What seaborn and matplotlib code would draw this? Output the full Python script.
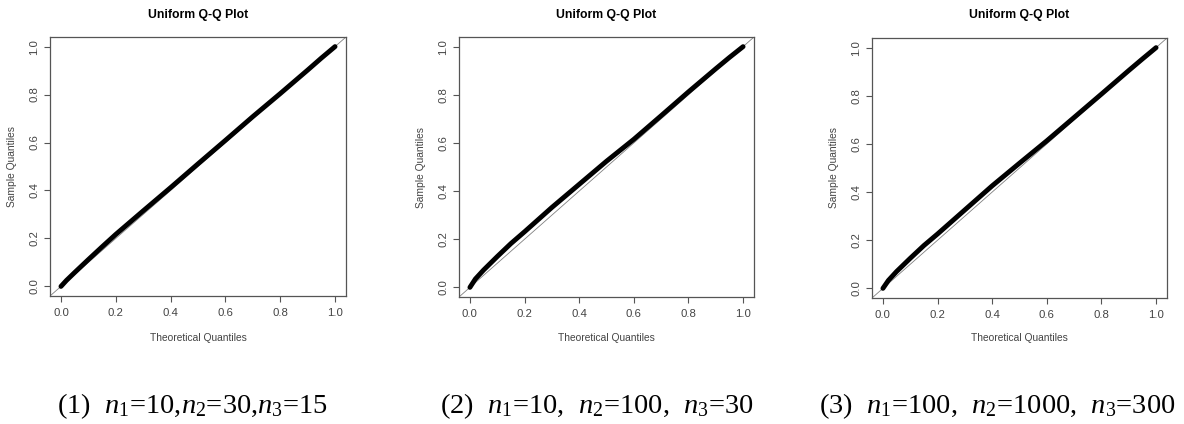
import numpy as np
import pandas as pd
import matplotlib
matplotlib.use("Agg")
import matplotlib.pyplot as plt
import seaborn as sns

# ---- data ----
theoretical = [0.0, 0.02, 0.05, 0.10, 0.15, 0.20, 0.30, 0.40, 0.50, 0.60, 0.70, 0.80, 0.90, 0.95, 1.0]
sample_1 = [0.0, 0.025, 0.058, 0.112, 0.165, 0.217, 0.315, 0.412, 0.511, 0.609, 0.708, 0.804, 0.902, 0.952, 1.0]
sample_2 = [0.0, 0.035, 0.072, 0.128, 0.182, 0.231, 0.332, 0.428, 0.524, 0.615, 0.713, 0.812, 0.908, 0.955, 1.0]
sample_3 = [0.0, 0.033, 0.070, 0.125, 0.178, 0.226, 0.326, 0.426, 0.520, 0.613, 0.710, 0.807, 0.905, 0.953, 1.0]
tick_values = [0.0, 0.2, 0.4, 0.6, 0.8, 1.0]
tick_labels = ["0.0", "0.2", "0.4", "0.6", "0.8", "1.0"]
panel_title = "Uniform Q-Q Plot"
x_label = "Theoretical Quantiles"
y_label = "Sample Quantiles"
captions = [
    r"(1)  $n_1$=10,$n_2$=30,$n_3$=15",
    r"(2)  $n_1$=10,  $n_2$=100,  $n_3$=30",
    r"(3)  $n_1$=100,  $n_2$=1000,  $n_3$=300",
]

sns.set_style("white")
plt.rcParams["font.family"] = ["Liberation Sans", "DejaVu Sans"]
plt.rcParams["mathtext.fontset"] = "custom"
plt.rcParams["mathtext.rm"] = "Liberation Serif"
plt.rcParams["mathtext.it"] = "Liberation Serif:italic"

W, H = 1184, 424
fig = plt.figure(figsize=(W / 100, H / 100), dpi=100)
fig.patch.set_facecolor("white")

boxes = [(50, 346, 37, 296), (459, 754, 37, 297), (872, 1167, 38, 298)]
caption_x = [192.5, 596.5, 997.5]
samples = [sample_1, sample_2, sample_3]

for (l, r, t, b), ys, cap, cx in zip(boxes, samples, captions, caption_x):
    ax = fig.add_axes([l / W, (H - b) / H, (r - l) / W, (b - t) / H])
    df = pd.DataFrame({"Theoretical": theoretical, "Sample": ys})
    ax.axline((0, 0), slope=1, color="#808080", lw=0.6, zorder=1)
    sns.lineplot(data=df, x="Theoretical", y="Sample", ax=ax, color="black",
                 linewidth=3.5, solid_capstyle="round", zorder=3)
    ax.set_xlim(-0.04, 1.04)
    ax.set_ylim(-0.04, 1.04)
    ax.set_xticks(tick_values)
    ax.set_xticklabels(tick_labels)
    ax.set_yticks(tick_values)
    ax.set_yticklabels(tick_labels, rotation=90, va="center")
    ax.tick_params(axis="both", direction="out", length=4, width=0.8,
                   color="#555555", labelcolor="#444444", labelsize=8.2,
                   bottom=True, left=True)
    ax.tick_params(axis="x", pad=4.5)
    ax.tick_params(axis="y", pad=3.5)
    for s in ax.spines.values():
        s.set_visible(True)
        s.set_color("#555555")
        s.set_linewidth(0.9)
    ax.set_xlabel(x_label, fontsize=7.4, color="#444444", va="center")
    ax.set_ylabel(y_label, fontsize=7.4, color="#444444", va="center")
    ax.xaxis.set_label_coords(0.5, -(338 - b) / (b - t))
    ax.yaxis.set_label_coords(-38 / (r - l), 0.5)
    ax.text(0.5, 1 + (t - 15) / (b - t), panel_title, transform=ax.transAxes,
            ha="center", va="center", fontsize=8.8, fontweight="bold", color="black")
    fig.text(cx / W, (H - 413) / H, cap, ha="center", va="baseline",
             fontsize=20.5, family="Liberation Serif", color="black")

fig.savefig("out.png", dpi=100, facecolor="white")
